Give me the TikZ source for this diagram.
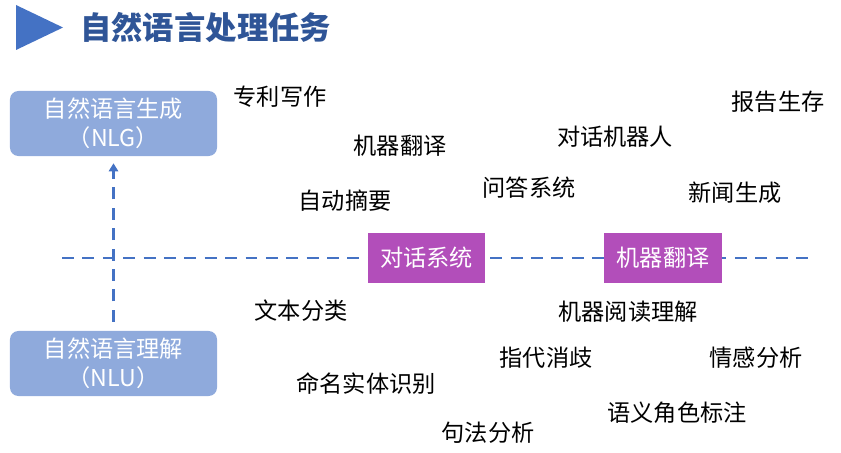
\documentclass[tikz,border=0pt]{standalone}
\usepackage{fontspec}
\setmainfont{Noto Sans CJK SC}
\usepackage{tikz}
\usetikzlibrary{arrows.meta}
\definecolor{tblue}{RGB}{68,114,196}
\definecolor{ttitle}{RGB}{47,85,151}
\definecolor{boxblue}{RGB}{143,170,220}
\definecolor{boxpurple}{RGB}{178,78,186}

\begin{document}
\begin{tikzpicture}[x=0.025cm, y=-0.025cm, every node/.style={font=\fontsize{16.5}{21}\selectfont}, >={Triangle[length=2mm, width=2.3mm]}, lv/.style={fill=boxblue, rounded corners=6pt, text=white, align=center, minimum width=5.175cm, minimum height=1.625cm, inner sep=0pt}, tk/.style={fill=boxpurple, text=white, minimum width=2.925cm, minimum height=1.25cm, inner sep=0pt}, dl/.style={draw=tblue, line width=2pt, dash pattern=on 8.5pt off 6pt}]
	\useasboundingbox (0,0) rectangle (841,453);
	% title
	\fill[tblue] (16,5) -- (63,27.5) -- (16,50) -- cycle;
	\node[anchor=west, text=ttitle, font=\fontsize{22.3}{26}\selectfont\bfseries, inner sep=0pt] (title) at (80,28) {自然语言处理任务};
	% levels
	\node[lv] (nlg) at (113.5,123.5) {自然语言生成\\（NLG）};
	\node[lv] (nlu) at (113.5,363.5) {自然语言理解\\（NLU）};
	\draw[dl, ->, shorten <=0.225cm, shorten >=0.175cm] (nlu.north) -- (nlg.south);
	\coordinate (hl) at (62,258);
	\coordinate (hr) at (812,258);
	\draw[dl] (hl) -- (hr);
	\node[tk] (dh) at (426.5,258) {对话系统};
	\node[tk] (fy) at (663,258) {机器翻译};
	% generation tasks
	\node (zl) at (280,97) {专利写作};
	\node (bg) at (778,102) {报告生存};
	\node (jq) at (400,146) {机器翻译};
	\node (dr) at (615,137) {对话机器人};
	\node (zy) at (345,201) {自动摘要};
	\node (wd) at (529,188) {问答系统};
	\node (xw) at (735,193) {新闻生成};
	% understanding tasks
	\node (wb) at (301,311) {文本分类};
	\node (yd) at (628,312) {机器阅读理解};
	\node (zd) at (546,358) {指代消歧};
	\node (qg) at (756,358) {情感分析};
	\node (mm) at (366,384) {命名实体识别};
	\node (yy) at (677,413) {语义角色标注};
	\node (jf) at (488,433) {句法分析};
\end{tikzpicture}
\end{document}
